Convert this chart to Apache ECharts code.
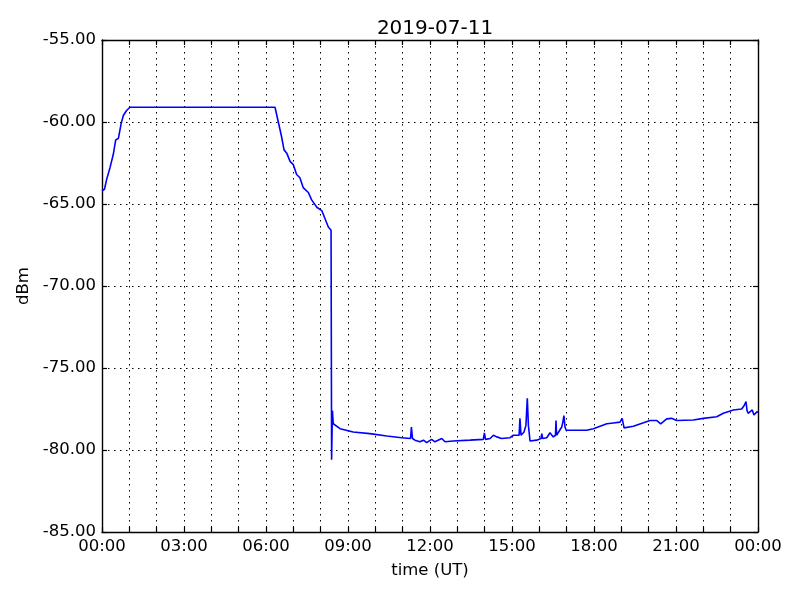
<!DOCTYPE html>
<html><head><meta charset="utf-8">
<script src="https://cdn.jsdelivr.net/npm/echarts@6/dist/echarts.min.js"></script>
<style>html,body{margin:0;padding:0;background:#fff}#c{width:800px;height:600px}</style>
</head><body><div id="c"></div>
<script>
const titleText = '2019-07-11';
const hours = [0.00,0.05,0.09,0.17,0.29,0.41,0.50,0.60,0.70,0.78,0.90,1.02,6.33,6.45,6.57,6.66,6.76,6.88,7.00,7.12,7.24,7.36,7.55,7.67,7.86,8.04,8.16,8.28,8.38,8.40,8.43,8.46,8.71,9.19,9.80,10.42,10.96,11.29,11.32,11.36,11.45,11.63,11.76,11.88,12.06,12.18,12.43,12.55,12.85,13.46,13.95,13.99,14.03,14.20,14.32,14.44,14.62,14.93,15.05,15.26,15.29,15.33,15.44,15.51,15.56,15.60,15.66,15.90,16.06,16.09,16.12,16.27,16.39,16.51,16.59,16.61,16.63,16.69,16.82,16.86,16.90,16.94,16.98,17.12,17.49,17.73,17.98,18.22,18.47,18.71,18.95,19.03,19.10,19.44,20.05,20.29,20.44,20.66,20.84,21.02,21.63,22.00,22.49,22.73,23.10,23.40,23.49,23.56,23.60,23.64,23.79,23.85,23.97,24.00];
const dbm = [-64.2,-64.25,-64.1,-63.5,-62.8,-62.0,-61.1,-61.0,-60.1,-59.6,-59.3,-59.1,-59.1,-60.0,-60.9,-61.7,-61.9,-62.4,-62.6,-63.2,-63.4,-64.0,-64.3,-64.75,-65.2,-65.4,-65.9,-66.4,-66.6,-80.6,-77.6,-78.4,-78.7,-78.9,-79.0,-79.15,-79.25,-79.3,-78.6,-79.3,-79.4,-79.5,-79.4,-79.55,-79.35,-79.5,-79.3,-79.5,-79.45,-79.4,-79.35,-78.95,-79.35,-79.3,-79.1,-79.2,-79.3,-79.25,-79.1,-79.1,-78.07,-79.1,-78.9,-78.5,-76.85,-78.5,-79.45,-79.4,-79.3,-79.0,-79.3,-79.25,-78.95,-79.2,-79.1,-78.2,-79.1,-79.1,-78.6,-78.3,-77.9,-78.6,-78.8,-78.8,-78.8,-78.8,-78.7,-78.55,-78.4,-78.35,-78.3,-78.07,-78.65,-78.55,-78.2,-78.2,-78.4,-78.1,-78.07,-78.2,-78.17,-78.07,-77.97,-77.76,-77.56,-77.5,-77.3,-77.05,-77.6,-77.76,-77.56,-77.87,-77.66,-77.7];
const xName = 'time (UT)';
const yName = 'dBm';

const FONT = 'DejaVu Sans';
const chart = echarts.init(document.getElementById('c'), null, {renderer:'canvas'});
const grid = {left:102, right:42, top:40, bottom:68};
const gridLine = {show:true, lineStyle:{color:'#000', type:[1.5,4.5], width:1}};
const tickIn = {show:true, inside:true, length:5, lineStyle:{color:'#000', width:1.2}};
const spine = {show:true, onZero:false, lineStyle:{color:'#000', width:1.4}};
function fmtH(v){ if (v % 3 !== 0) return ''; const h = v % 24; return (h<10?'0':'')+h+':00'; }
chart.setOption({
  animation:false,
  backgroundColor:'#fff',
  title:{text:titleText, left:430, top:14, textAlign:'center', textStyle:{fontFamily:FONT, fontSize:20, fontWeight:'normal', color:'#000'}},
  grid:grid,
  xAxis:[{type:'value', min:0, max:24, interval:1, position:'bottom',
    name:xName, nameLocation:'middle', nameGap:30, nameTextStyle:{fontFamily:FONT, fontSize:16.5, color:'#000'},
    axisLine:spine, axisTick:tickIn, splitLine:gridLine,
    axisLabel:{formatter:fmtH, fontFamily:FONT, fontSize:16.5, color:'#000', margin:6, showMaxLabel:true, showMinLabel:true}},
   {type:'value', min:0, max:24, interval:1, position:'top',
    axisLine:spine, axisTick:tickIn, splitLine:{show:false}, axisLabel:{show:false}}],
  yAxis:[{type:'value', min:-85, max:-55, interval:5, position:'left',
    name:yName, nameLocation:'middle', nameGap:66, nameRotate:90, nameTextStyle:{fontFamily:FONT, fontSize:16.5, color:'#000'},
    axisLine:spine, axisTick:tickIn, splitLine:gridLine,
    axisLabel:{formatter:v=>v.toFixed(2), fontFamily:FONT, fontSize:16.5, color:'#000', margin:6}},
   {type:'value', min:-85, max:-55, interval:5, position:'right',
    axisLine:spine, axisTick:tickIn, splitLine:{show:false}, axisLabel:{show:false}}],
  series:[{type:'line', data:hours.map((h,i)=>[h,dbm[i]]), showSymbol:false, symbol:'none',
    lineStyle:{color:'#0000ff', width:1.6}, itemStyle:{color:'#0000ff'}, z:3}]
});
</script></body></html>
